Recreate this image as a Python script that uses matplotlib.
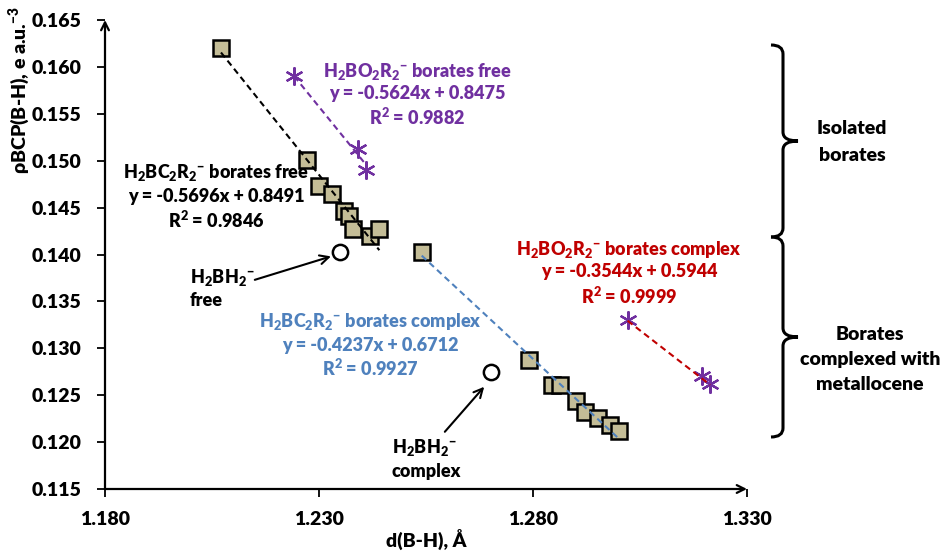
import numpy as np
import matplotlib
matplotlib.use("Agg")
import matplotlib.pyplot as plt
from matplotlib.path import Path
from matplotlib.patches import PathPatch

WEIGHT = 'heavy'
plt.rcParams['font.family'] = ['Lato', 'DejaVu Sans']
plt.rcParams['font.weight'] = WEIGHT
plt.rcParams['mathtext.fontset'] = 'custom'
plt.rcParams['mathtext.rm'] = 'Lato:' + WEIGHT
plt.rcParams['mathtext.it'] = 'Lato:' + WEIGHT
plt.rcParams['mathtext.bf'] = 'Lato:' + WEIGHT

# H2BC2R2- borates, free (squares)
bc_free_x = [1.2071, 1.2272, 1.2300, 1.2331, 1.2358, 1.2370, 1.2380, 1.2419, 1.2441]
bc_free_y = [0.1620, 0.1501, 0.1473, 0.1465, 0.1446, 0.1441, 0.1427, 0.1420, 0.1427]
bc_free_fit = (-0.5696, 0.8491, 0.9846)

# H2BC2R2- borates, complexed (squares)
bc_cplx_x = [1.2540, 1.2791, 1.2845, 1.2862, 1.2900, 1.2921, 1.2951, 1.2981, 1.3001]
bc_cplx_y = [0.1403, 0.1287, 0.1261, 0.1261, 0.1244, 0.1232, 0.1226, 0.1218, 0.1212]
bc_cplx_fit = (-0.4237, 0.6712, 0.9927)

# H2BO2R2- borates (stars)
bo_free_x = [1.2242, 1.2390, 1.2410]
bo_free_y = [0.1590, 0.1512, 0.1490]
bo_free_fit = (-0.5624, 0.8475, 0.9882)

bo_cplx_x = [1.3021, 1.3194, 1.3214]
bo_cplx_y = [0.1330, 0.1270, 0.1262]
bo_cplx_fit = (-0.3544, 0.5944, 0.9999)

# H2BH2- (circles)
bh_x = [1.2350, 1.2701]
bh_y = [0.1403, 0.1275]

x_ticks = [1.180, 1.230, 1.280, 1.330]
y_ticks = [0.115, 0.120, 0.125, 0.130, 0.135, 0.140, 0.145, 0.150, 0.155, 0.160, 0.165]

W, H = 952, 551
TAN = '#C4BD97'
PURPLE = '#7030A0'
RED = '#C00000'
BLUE = '#4F81BD'


def px(x, y):
    return x / W, 1 - y / H


def trend(ax, xs, fit, color):
    xx = np.array([min(xs), max(xs)])
    ax.plot(xx, fit[0] * xx + fit[1], ls=(0, (3, 2)), color=color, lw=1.5, zorder=5)


def label(fig, lines, x, ys, color, ha='center', size=13):
    for s, y in zip(lines, ys):
        fig.text(*px(x, y), s, ha=ha, va='center', color=color, fontsize=size,
                 fontweight=WEIGHT)


def brace(fig, y0, y1, x=783, hook=12, tip=15, r=9):
    ym = (y0 + y1) / 2
    pts = [(x - hook, y0), (x, y0), (x, y0 + r), (x, ym - r), (x, ym), (x + tip, ym),
           (x, ym), (x, ym + r), (x, y1 - r), (x, y1), (x - hook, y1)]
    codes = [Path.MOVETO, Path.CURVE3, Path.CURVE3, Path.LINETO, Path.CURVE3, Path.CURVE3,
             Path.CURVE3, Path.CURVE3, Path.LINETO, Path.CURVE3, Path.CURVE3]
    verts = [px(a, b) for a, b in pts]
    fig.add_artist(PathPatch(Path(verts, codes), fill=False, lw=2.2, color='black',
                             transform=fig.transFigure))


fig = plt.figure(figsize=(9.52, 5.51), dpi=100)
ax = fig.add_axes([105 / W, 1 - 489 / H, 642 / W, 469 / H])
ax.set_xlim(1.18, 1.33)
ax.set_ylim(0.115, 0.165)

ax.plot(bc_free_x, bc_free_y, 's', ms=12, mfc=TAN, mec='black', mew=1.8, zorder=3)
ax.plot(bc_cplx_x, bc_cplx_y, 's', ms=12, mfc=TAN, mec='black', mew=1.8, zorder=3)
ax.plot(bo_free_x, bo_free_y, marker=(6, 2, 0), ls='none', ms=13, mec=PURPLE, mew=1.6, zorder=3)
ax.plot(bo_cplx_x, bo_cplx_y, marker=(6, 2, 0), ls='none', ms=13, mec=PURPLE, mew=1.6, zorder=3)
ax.plot(bh_x, bh_y, 'o', ms=11, mfc='white', mec='black', mew=1.8, zorder=3)

trend(ax, bc_free_x, bc_free_fit, 'black')
trend(ax, bc_cplx_x, bc_cplx_fit, BLUE)
trend(ax, bo_free_x, bo_free_fit, PURPLE)
trend(ax, bo_cplx_x, bo_cplx_fit, RED)

ax.set_xticks(x_ticks)
ax.set_yticks(y_ticks)
ax.set_xticklabels(['%.3f' % v for v in x_ticks])
ax.set_yticklabels(['%.3f' % v for v in y_ticks])
ax.tick_params(axis='both', labelsize=14, width=1.3, length=6, direction='out')
ax.tick_params(axis='x', pad=10)
ax.tick_params(axis='y', pad=11)
for sp in ax.spines.values():
    sp.set_visible(False)
ax.annotate('', xy=(0, 1), xytext=(0, 0), xycoords='axes fraction',
            arrowprops=dict(arrowstyle='->', lw=1.6, color='black', mutation_scale=14,
                            shrinkA=0, shrinkB=0))
ax.annotate('', xy=(1, 0), xytext=(0, 0), xycoords='axes fraction',
            arrowprops=dict(arrowstyle='->', lw=1.6, color='black', mutation_scale=14,
                            shrinkA=0, shrinkB=0))

# arrows to the H2BH2- points
ax.annotate('', xy=(1.2328, 0.1398), xytext=(1.2150, 0.1373),
            arrowprops=dict(arrowstyle='->', lw=1.5, color='black', mutation_scale=16,
                            shrinkA=0, shrinkB=0))
ax.annotate('', xy=(1.2686, 0.1259), xytext=(1.2594, 0.1211),
            arrowprops=dict(arrowstyle='->', lw=1.5, color='black', mutation_scale=16,
                            shrinkA=0, shrinkB=0))


def eq(fit):
    return ['y = %.4fx + %.4f' % (fit[0], fit[1]), 'R$^2$ = %.4f' % fit[2]]


label(fig, ['H$_2$BC$_2$R$_2$$^{-}$ borates free'] + eq(bc_free_fit), 216, [172, 196, 220], 'black')
label(fig, ['H$_2$BO$_2$R$_2$$^{-}$ borates free'] + eq(bo_free_fit), 417, [71, 94, 117], PURPLE)
label(fig, ['H$_2$BO$_2$R$_2$$^{-}$ borates complex'] + eq(bo_cplx_fit), 629, [249, 272, 296], RED)
label(fig, ['H$_2$BC$_2$R$_2$$^{-}$ borates complex'] + eq(bc_cplx_fit), 370, [322, 345, 368], BLUE)
label(fig, ['H$_2$BH$_2$$^{-}$', 'free'], 190, [277, 300], 'black', ha='left')
label(fig, ['H$_2$BH$_2$$^{-}$', 'complex'], 392, [447, 472], 'black', ha='left')
label(fig, ['Isolated', 'borates'], 852, [129, 156], 'black', size=14)
label(fig, ['Borates', 'complexed with', 'metallocene'], 870, [334, 359, 384], 'black', size=14)

brace(fig, 45, 237)
brace(fig, 237, 437)

fig.text(*px(426, 539), 'd(B-H), Å', ha='center', va='center', fontsize=14, fontweight=WEIGHT)
fig.text(*px(19, 90), 'ρBCP(B-H), e a.u.$^{-3}$', ha='center', va='center', rotation=90,
         fontsize=14, fontweight=WEIGHT)

fig.savefig('out.png', dpi=100)
